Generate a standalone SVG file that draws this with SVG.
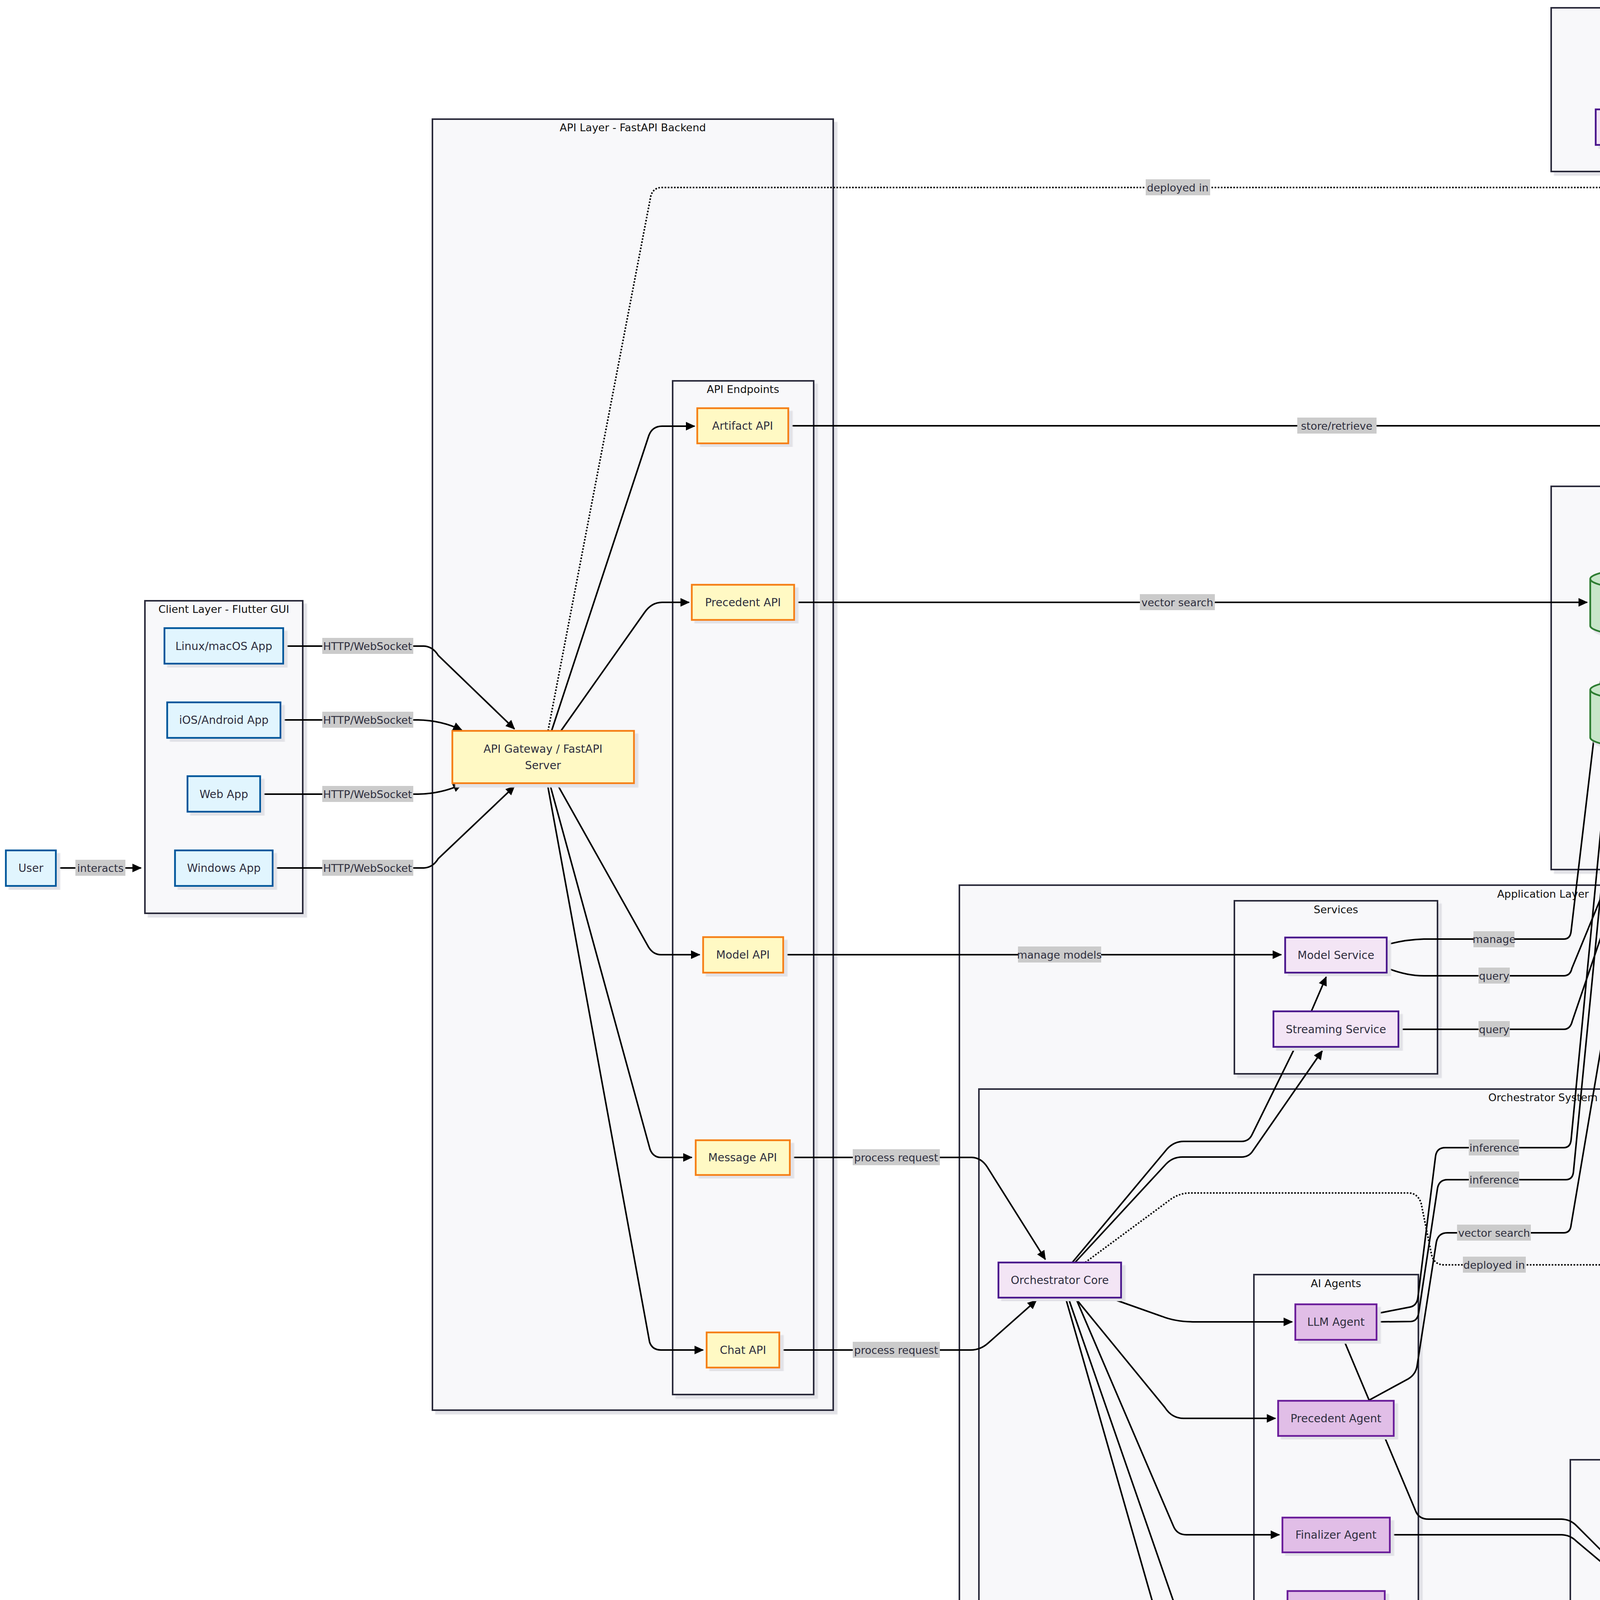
<svg xmlns="http://www.w3.org/2000/svg" width="6133" height="4564" viewBox="0 0 6133 4564">
<defs>
<filter id="sh" x="-5%" y="-5%" width="115%" height="115%"><feDropShadow dx="9" dy="9" stdDeviation="1" flood-color="#e2e2e7" flood-opacity="1"/></filter>
<marker id="ah" viewBox="0 0 12 11" refX="11" refY="5.5" markerWidth="24" markerHeight="22" markerUnits="userSpaceOnUse" orient="auto"><path d="M0,0 L12,5.5 L0,11 z" fill="#000"/></marker>
</defs>
<style>
.cl{fill:#f8f8fa;stroke:#2b2b3b;stroke-width:4;filter:url(#sh)}
.ct{font-family:"DejaVu Sans",sans-serif;font-size:27px;fill:#111;text-anchor:middle;dominant-baseline:central}
.e{fill:none;stroke:#000;stroke-width:4;marker-end:url(#ah)}
.d{stroke-dasharray:4 4}
.lb rect{fill:#cbcbcb}
.lb text{font-family:"DejaVu Sans",sans-serif;font-size:27px;fill:#2e2e3e;text-anchor:middle;dominant-baseline:central}
.n text{font-family:"DejaVu Sans",sans-serif;font-size:28px;fill:#2e2e3e;text-anchor:middle;dominant-baseline:central}
.n rect,.n path{stroke-width:4.5;filter:url(#sh)}
.cb rect{fill:#e1f5fe;stroke:#01579b}
.ca rect{fill:#fff9c4;stroke:#f57f17}
.cp rect{fill:#f3e5f5;stroke:#4a148c}
.cg rect{fill:#e1bee7;stroke:#6a1b9a}
.cd rect,.cd path{fill:#c8e6c9;stroke:#2e7d32}
.cs rect{fill:#ffccbc;stroke:#bf360c}
.cy rect{fill:#b0bec5;stroke:#37474f}
</style>
<rect width="6133" height="4564" fill="#ffffff"/>

<g id="clusters">
<g id="cl-client"><rect class="cl" x="371" y="1538" width="404" height="800"/><text class="ct" x="573" y="1559">Client Layer - Flutter GUI</text></g>
<g id="cl-api"><rect class="cl" x="1107" y="305" width="1026" height="3305"/><text class="ct" x="1620" y="326">API Layer - FastAPI Backend</text></g>
<g id="cl-endpoints"><rect class="cl" x="1722" y="975" width="361" height="2595"/><text class="ct" x="1902" y="996">API Endpoints</text></g>
<g id="cl-aiml"><rect class="cl" x="3971" y="20" width="593" height="419"/><text class="ct" x="4267" y="41">AI/ML Services</text></g>
<g id="cl-deploy"><rect class="cl" x="4826" y="37" width="1290" height="519"/><text class="ct" x="5470" y="58">Deployment</text></g>
<g id="cl-storage"><rect class="cl" x="4826" y="596" width="618" height="609"/><text class="ct" x="5135" y="618">Storage Layer</text></g>
<g id="cl-data"><rect class="cl" x="3971" y="1245" width="1473" height="981"/><text class="ct" x="4707" y="1266">Data Layer</text></g>
<g id="cl-dbcomp"><rect class="cl" x="4875" y="1578" width="519" height="608"/><text class="ct" x="5135" y="1600">Database Components</text></g>
<g id="cl-app"><rect class="cl" x="2456" y="2266" width="2987" height="2277"/><text class="ct" x="3950" y="2288">Application Layer</text></g>
<g id="cl-services"><rect class="cl" x="3160" y="2306" width="520" height="443"/><text class="ct" x="3420" y="2328">Services</text></g>
<g id="cl-orch"><rect class="cl" x="2506" y="2788" width="2888" height="1714"/><text class="ct" x="3950" y="2809">Orchestrator System</text></g>
<g id="cl-agents"><rect class="cl" x="3210" y="3263" width="421" height="1160"/><text class="ct" x="3420" y="3285">AI Agents</text></g>
<g id="cl-tools"><rect class="cl" x="4925" y="3278" width="419" height="419"/><text class="ct" x="5135" y="3299">Tools</text></g>
<g id="cl-executor"><rect class="cl" x="4020" y="3737" width="1324" height="689"/><text class="ct" x="4682" y="3757">Executor</text></g>
</g>

<g id="connectors">
<path class="e" d="M143,2222 L361,2222"/>
<path class="e" d="M725,1654 L1085,1654 Q1108,1655 1122,1678 L1317,1866"/>
<path class="e" d="M718,1843 L1070,1843 Q1130,1844 1182,1869"/>
<path class="e" d="M666,2033 L1070,2033 Q1130,2032 1182,2008"/>
<path class="e" d="M698,2222 L1085,2222 Q1108,2221 1122,2198 L1317,2013"/>
<path class="e" d="M1412,1871 L1661,1115 Q1670,1091 1695,1091 L1778,1091"/>
<path class="e" d="M1436,1871 L1650,1568 Q1668,1542 1695,1542 L1764,1542"/>
<path class="e" d="M1425,2005 L1660,2424 Q1672,2444 1692,2444 L1791,2444"/>
<path class="e" d="M1407,2005 L1664,2942 Q1672,2963 1692,2963 L1771,2963"/>
<path class="e" d="M1401,2005 L1663,3436 Q1670,3456 1692,3456 L1800,3456"/>
<path class="e d" d="M1403,1871 L1666,502 Q1672,480 1695,480 L4895,480 Q4925,480 4945,455 L5068,361"/>
<path class="e" d="M2018,1090 L5029,1090"/>
<path class="e" d="M2033,1542 L4063,1542"/>
<path class="e" d="M2005,2444 L3280,2444"/>
<path class="e" d="M2022,2963 L2488,2963 Q2512,2964 2527,2987 L2676,3224"/>
<path class="e" d="M1995,3456 L2485,3456 Q2510,3456 2530,3438 L2653,3329"/>
<path class="e" d="M2752,3232 L2985,2980 Q3002,2962 3027,2962 L3178,2962 Q3198,2962 3208,2945 L3385,2690"/>
<path class="e" d="M2745,3232 L2988,2941 Q3006,2922 3030,2922 L3178,2922 Q3198,2922 3206,2903 L3316,2680 L3357,2589 L3395,2501"/>
<path class="e d" d="M2778,3232 L3000,3068 Q3022,3054 3047,3054 L3608,3054 Q3630,3056 3638,3080 L3665,3213 Q3672,3238 3697,3238 L4905,3238 Q4926,3238 4928,3215 L5124,372"/>
<path class="e" d="M2839,3322 L2975,3370 Q3010,3384 3060,3384 L3308,3384"/>
<path class="e" d="M2752,3322 L2982,3603 Q3000,3631 3030,3631 L3265,3631"/>
<path class="e" d="M2754,3323 L3004,3907 Q3013,3929 3037,3929 L3275,3929"/>
<path class="e" d="M2735,3323 L3004,4099 Q3012,4119 3037,4119 L3288,4119"/>
<path class="e" d="M2728,3323 L3004,4288 Q3012,4308 3037,4308 L3268,4308"/>
<path class="e" d="M3523,3363 L3610,3346 Q3628,3342 3630,3320 L3675,2960 Q3678,2938 3700,2938 L4003,2938 Q4020,2938 4022,2918 L4283,197"/>
<path class="e" d="M3523,3384 L3612,3383 Q3629,3382 3632,3360 L3680,3042 Q3684,3020 3706,3020 L4008,3020 Q4026,3020 4028,3000 L4284,384"/>
<path class="e" d="M3550,2418 Q3600,2405 3645,2404 L4003,2404 Q4020,2404 4022,2384 L4281,197"/>
<path class="e" d="M3550,2478 Q3600,2498 3645,2498 L4003,2498 Q4020,2498 4024,2479 L4247,1937"/>
<path class="e" d="M3580,2635 L4003,2635 Q4020,2635 4025,2614 L4256,1937"/>
<path class="e" d="M3502,3586 L3605,3530 Q3625,3518 3628,3495 L3677,3180 Q3682,3156 3705,3156 L4003,3156 Q4020,3156 4022,3136 L4227,1923 L4261,1734 L4275,1644"/>
<path class="e" d="M3440,3430 L3624,3868 Q3632,3889 3657,3889 L3998,3889 Q4020,3890 4035,3905 L4238,4108"/>
<path class="e" d="M3558,3929 L3998,3929 Q4020,3930 4035,3945 L4223,4103"/>
<path class="e" d="M3545,4119 L3990,4119 Q4040,4120 4153,4139"/>
<path class="e" d="M3565,4308 L3990,4308 Q4030,4308 4060,4291 L4202,4209"/>
<path class="e" d="M4326,4114 L4540,3816 Q4555,3798 4577,3798 L4908,3798 Q4926,3798 4927,3778 L5126,769"/>
<path class="e" d="M4341,4114 L4545,3898 Q4562,3879 4587,3879 L4908,3879 Q4926,3879 4927,3859 L5126,958"/>
<path class="e" d="M4357,4114 L4558,3977 Q4580,3962 4607,3962 L4908,3962 Q4926,3962 4927,3942 L5126,1150"/>
<path class="e" d="M4403,4206 L4540,4262 Q4560,4271 4587,4271 L4905,4271 Q4922,4271 4928,4250 L5113,3640"/>
<path class="e" d="M4423,4195 L4560,4225 Q4580,4231 4607,4231 L4905,4231 Q4920,4231 4925,4212 L5077,3629 L5098,3537 L5122,3452"/>
<path class="e" d="M4372,4204 L4530,4291 Q4565,4311 4600,4311 L4998,4311"/>
<path class="e" d="M4481,1748 L4540,1708 Q4562,1693 4592,1693 L4978,1693"/>
<path class="e" d="M4514,1873 Q4550,1882 4592,1882 L4978,1882"/>
<path class="e" d="M4340,1634 L4545,2045 Q4556,2071 4587,2071 L4978,2071"/>
<path class="e d" d="M4481,1459 Q4530,1410 4582,1407 L4905,1407 Q4924,1407 4928,1385 L5124,372"/>
<path class="e d" d="M4371,1737 L4490,1595 Q4530,1514 4582,1512 L4905,1512 Q4924,1512 4928,1490 L5126,372"/>
<path class="e d" d="M4455,135 L4905,135 Q4930,135 4945,155 L5069,258"/>
<path class="e d" d="M5293,306 L5676,306"/>
</g>

<g id="edge-labels">
<g class="lb"><rect x="193" y="2201" width="128" height="41"/><text x="257" y="2222">interacts</text></g>
<g class="lb"><rect x="825" y="1633" width="233" height="41"/><text x="941" y="1654">HTTP/WebSocket</text></g>
<g class="lb"><rect x="825" y="1822" width="233" height="41"/><text x="941" y="1843">HTTP/WebSocket</text></g>
<g class="lb"><rect x="825" y="2012" width="233" height="41"/><text x="941" y="2033">HTTP/WebSocket</text></g>
<g class="lb"><rect x="825" y="2201" width="233" height="41"/><text x="941" y="2222">HTTP/WebSocket</text></g>
<g class="lb"><rect x="2933" y="459" width="165" height="41"/><text x="3015" y="480">deployed in</text></g>
<g class="lb"><rect x="3321" y="1069" width="203" height="41"/><text x="3422" y="1090">store/retrieve</text></g>
<g class="lb"><rect x="2918" y="1521" width="192" height="41"/><text x="3014" y="1542">vector search</text></g>
<g class="lb"><rect x="2606" y="2423" width="213" height="41"/><text x="2712" y="2444">manage models</text></g>
<g class="lb"><rect x="2183" y="2942" width="223" height="41"/><text x="2294" y="2963">process request</text></g>
<g class="lb"><rect x="2183" y="3435" width="223" height="41"/><text x="2294" y="3456">process request</text></g>
<g class="lb"><rect x="3772" y="2384" width="105" height="41"/><text x="3825" y="2404">manage</text></g>
<g class="lb"><rect x="3785" y="2477" width="80" height="41"/><text x="3825" y="2498">query</text></g>
<g class="lb"><rect x="3785" y="2614" width="80" height="41"/><text x="3825" y="2635">query</text></g>
<g class="lb"><rect x="3760" y="2917" width="129" height="41"/><text x="3825" y="2938">inference</text></g>
<g class="lb"><rect x="3760" y="2999" width="129" height="41"/><text x="3825" y="3020">inference</text></g>
<g class="lb"><rect x="3730" y="3135" width="189" height="41"/><text x="3825" y="3156">vector search</text></g>
<g class="lb"><rect x="3745" y="3217" width="161" height="41"/><text x="3825" y="3238">deployed in</text></g>
<g class="lb"><rect x="4619" y="3777" width="151" height="41"/><text x="4694" y="3798">read/write</text></g>
<g class="lb"><rect x="4619" y="3858" width="151" height="41"/><text x="4694" y="3879">read/write</text></g>
<g class="lb"><rect x="4619" y="3941" width="151" height="41"/><text x="4694" y="3962">read/write</text></g>
<g class="lb"><rect x="4615" y="1386" width="160" height="41"/><text x="4695" y="1407">deployed in</text></g>
<g class="lb"><rect x="4615" y="1491" width="160" height="41"/><text x="4695" y="1512">deployed in</text></g>
<g class="lb"><rect x="4626" y="114" width="137" height="41"/><text x="4694" y="135">can run in</text></g>
<g class="lb"><rect x="5494" y="286" width="140" height="41"/><text x="5564" y="306">GPU tasks</text></g>
</g>

<g id="node-user" class="n cb"><rect x="15" y="2177" width="128" height="91"/><text x="79" y="2222">User</text></g>
<g id="node-linux" class="n cb"><rect x="421" y="1608" width="304" height="91"/><text x="573" y="1654">Linux/macOS App</text></g>
<g id="node-ios" class="n cb"><rect x="428" y="1798" width="290" height="91"/><text x="573" y="1843">iOS/Android App</text></g>
<g id="node-web" class="n cb"><rect x="480" y="1987" width="186" height="91"/><text x="573" y="2033">Web App</text></g>
<g id="node-windows" class="n cb"><rect x="448" y="2177" width="250" height="91"/><text x="573" y="2222">Windows App</text></g>
<g id="node-gateway" class="n ca"><rect x="1158" y="1871" width="465" height="134"/><text x="1390" y="1917">API Gateway / FastAPI</text><text x="1390" y="1959">Server</text></g>
<g id="node-artifact-api" class="n ca"><rect x="1785" y="1045" width="233" height="90"/><text x="1901" y="1090">Artifact API</text></g>
<g id="node-precedent-api" class="n ca"><rect x="1771" y="1497" width="262" height="90"/><text x="1902" y="1542">Precedent API</text></g>
<g id="node-model-api" class="n ca"><rect x="1800" y="2399" width="205" height="91"/><text x="1902" y="2444">Model API</text></g>
<g id="node-message-api" class="n ca"><rect x="1781" y="2919" width="241" height="89"/><text x="1901" y="2963">Message API</text></g>
<g id="node-chat-api" class="n ca"><rect x="1809" y="3411" width="186" height="90"/><text x="1902" y="3456">Chat API</text></g>
<g id="node-ollama" class="n cp"><rect x="4128" y="90" width="327" height="91"/><text x="4292" y="135">Ollama / Local LLM</text></g>
<g id="node-bedrock" class="n cp"><rect x="4085" y="280" width="415" height="91"/><text x="4292" y="325">AWS Bedrock / Cloud LLM</text></g>
<g id="node-docker" class="n cy"><rect x="4976" y="261" width="317" height="91"/><text x="5134" y="306">Docker Containers</text></g>
<g id="node-gpu" class="n cy"><rect x="5683" y="261" width="383" height="91"/><text x="5875" y="306">GPU Support / CUDA 12</text></g>
<g id="node-input" class="n cs"><rect x="5025" y="666" width="218" height="90"/><text x="5134" y="711">Input Files</text></g>
<g id="node-output" class="n cs"><rect x="5016" y="855" width="237" height="91"/><text x="5134" y="900">Output Files</text></g>
<g id="node-artifacts" class="n cs"><rect x="5038" y="1045" width="191" height="90"/><text x="5133" y="1090">Artifacts</text></g>
<g id="node-weaviate" class="n cd"><path d="M4071,1482 a221.5,32 0 0 0 443,0 a221.5,32 0 0 0 -443,0 l0,120 a221.5,32 0 0 0 443,0 l0,-120"/><text x="4292" y="1556">Weaviate / Vector Database</text></g>
<g id="node-postgres" class="n cd"><path d="M4071,1766 a221.5,32 0 0 0 443,0 a221.5,32 0 0 0 -443,0 l0,122 a221.5,32 0 0 0 443,0 l0,-122"/><text x="4292" y="1842">PostgreSQL / Main Database</text></g>
<g id="node-sqlalchemy" class="n cd"><rect x="4986" y="1648" width="298" height="90"/><text x="5135" y="1693">SQLAlchemy ORM</text></g>
<g id="node-crud" class="n cd"><rect x="4987" y="1837" width="295" height="91"/><text x="5135" y="1882">CRUD Operations</text></g>
<g id="node-semantic" class="n cd"><rect x="4988" y="2026" width="293" height="91"/><text x="5135" y="2071">Semantic Search</text></g>
<g id="node-model-service" class="n cp"><rect x="3290" y="2400" width="260" height="90"/><text x="3420" y="2445">Model Service</text></g>
<g id="node-streaming" class="n cp"><rect x="3260" y="2589" width="320" height="91"/><text x="3420" y="2635">Streaming Service</text></g>
<g id="node-orch-core" class="n cp"><rect x="2556" y="3232" width="314" height="90"/><text x="2713" y="3277">Orchestrator Core</text></g>
<g id="node-llm-agent" class="n cg"><rect x="3316" y="3339" width="208" height="91"/><text x="3420" y="3384">LLM Agent</text></g>
<g id="node-precedent-agent" class="n cg"><rect x="3272" y="3586" width="296" height="90"/><text x="3420" y="3631">Precedent Agent</text></g>
<g id="node-finalizer" class="n cg"><rect x="3283" y="3885" width="275" height="89"/><text x="3420" y="3929">Finalizer Agent</text></g>
<g id="node-router" class="n cg"><rect x="3296" y="4073" width="249" height="91"/><text x="3420" y="4119">Router Agent</text></g>
<g id="node-classifier" class="n cg"><rect x="3276" y="4263" width="289" height="91"/><text x="3420" y="4308">Classifier Agent</text></g>
<g id="node-task-executor" class="n cp"><rect x="4163" y="4114" width="258" height="90"/><text x="4292" y="4159">Task Executor</text></g>
<g id="node-path-resolver" class="n cp"><rect x="5007" y="4266" width="256" height="90"/><text x="5135" y="4311">Path Resolver</text></g>
<g id="node-gen-tools" class="n cp"><rect x="4985" y="3348" width="300" height="90"/><text x="5135" y="3393">Generation Tools</text></g>
<g id="node-proc-tools" class="n cp"><rect x="4986" y="3538" width="298" height="89"/><text x="5135" y="3582">Processing Tools</text></g>
</svg>
